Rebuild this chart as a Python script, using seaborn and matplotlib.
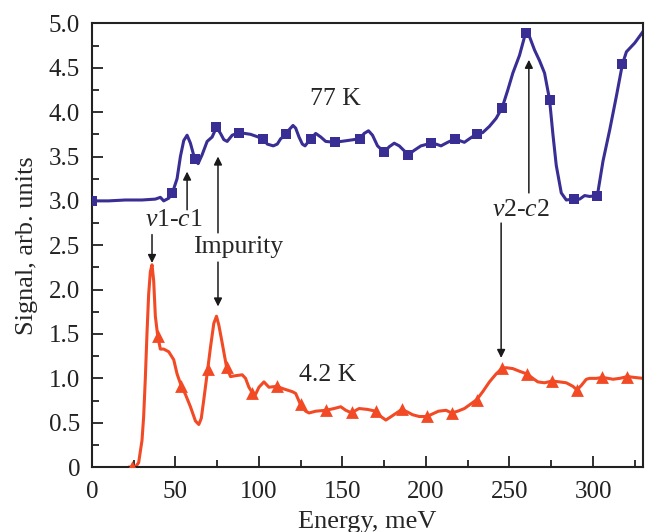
import numpy as np
import matplotlib
matplotlib.use('Agg')
import matplotlib.pyplot as plt
import seaborn as sns
import pandas as pd

# 77 K curve
e77 = [0, 10, 20, 30, 38, 41, 43, 46, 48.2, 51, 53, 55, 57, 59, 61.6, 63.6, 66, 69, 72, 74.6,
       77, 79, 81, 84, 88.2, 95, 102.6, 105, 108.6, 111, 113, 116.4, 118, 120.4, 122, 124, 126,
       127.6, 131, 134, 137, 140, 145.4, 153, 160.4, 163, 165.6, 168, 171, 175, 178, 181, 184,
       189.4, 193, 197, 203, 206, 209, 213, 217.6, 220, 223, 226, 230, 234, 238, 242, 245.6,
       249, 252, 256, 259.6, 262, 265, 268, 271, 274, 276, 278, 281, 284, 288.4, 292, 295, 298,
       302.6, 306, 310, 314, 317.6, 320, 325, 330]
s77 = [3.00, 3.00, 3.01, 3.01, 3.02, 3.04, 3.00, 3.03, 3.09, 3.25, 3.50, 3.68, 3.74, 3.65, 3.47,
       3.42, 3.52, 3.67, 3.72, 3.83, 3.76, 3.69, 3.67, 3.74, 3.77, 3.75, 3.70, 3.64, 3.62, 3.64,
       3.70, 3.75, 3.80, 3.85, 3.82, 3.72, 3.64, 3.62, 3.70, 3.76, 3.72, 3.67, 3.66, 3.68, 3.70,
       3.76, 3.79, 3.74, 3.62, 3.55, 3.61, 3.65, 3.62, 3.52, 3.57, 3.62, 3.65, 3.64, 3.62, 3.66,
       3.70, 3.68, 3.66, 3.70, 3.75, 3.77, 3.84, 3.93, 4.05, 4.25, 4.44, 4.64, 4.89, 4.85, 4.70,
       4.58, 4.44, 4.14, 3.75, 3.40, 3.09, 3.01, 3.02, 3.02, 3.06, 3.05, 3.06, 3.45, 3.80, 4.18,
       4.54, 4.68, 4.78, 4.91]
e77_mark = [0, 48.2, 61.6, 74.6, 88.2, 102.6, 116.4, 131, 145.4, 160.4, 175, 189.4, 203, 217.6,
            230.5, 245.6, 259.6, 274, 288.4, 302.6, 317.6]
s77_mark = [3.0, 3.09, 3.47, 3.83, 3.77, 3.70, 3.75, 3.70, 3.66, 3.70, 3.55, 3.52, 3.65, 3.70,
            3.75, 4.05, 4.89, 4.14, 3.02, 3.06, 4.54]

# 4.2 K curve
e42 = [22, 24, 26, 28, 30, 31, 32, 33, 34, 35, 36, 37, 38, 39.4, 41, 43, 46, 49, 51, 53.6, 56,
       59, 62, 64, 65.5, 67, 69.4, 71, 73, 74.6, 76, 78, 80.6, 83, 86, 90, 92, 94, 96, 98, 100,
       103, 106, 110.6, 115, 120, 122, 125, 128, 130, 134, 140, 145, 149, 152, 155.6, 158, 160,
       165, 170, 173, 176, 180, 185.6, 189, 192, 196, 200.6, 204, 207.5, 212, 215.4, 219, 223,
       226, 230.4, 234, 238, 242, 245.4, 248, 252, 256, 260.4, 264, 267, 271, 275.6, 280, 284,
       288, 290.4, 293, 296, 298, 302, 305.6, 309, 312, 316, 320.6, 325, 330]
s42 = [0.0, 0.0, 0.0, 0.05, 0.30, 0.57, 1.00, 1.51, 1.95, 2.20, 2.28, 2.10, 1.70, 1.48, 1.33,
       1.33, 1.30, 1.21, 1.05, 0.91, 0.82, 0.68, 0.52, 0.48, 0.55, 0.76, 1.11, 1.35, 1.62, 1.70,
       1.60, 1.40, 1.13, 1.02, 1.03, 1.04, 1.00, 0.90, 0.84, 0.82, 0.90, 0.96, 0.90, 0.91, 0.88,
       0.85, 0.83, 0.70, 0.63, 0.61, 0.63, 0.64, 0.66, 0.68, 0.64, 0.61, 0.64, 0.66, 0.65, 0.63,
       0.57, 0.53, 0.58, 0.65, 0.62, 0.59, 0.57, 0.57, 0.60, 0.63, 0.64, 0.61, 0.63, 0.66, 0.70,
       0.76, 0.85, 0.96, 1.05, 1.11, 1.12, 1.11, 1.08, 1.05, 1.00, 0.96, 0.95, 0.97, 0.96, 0.95,
       0.91, 0.87, 0.92, 0.99, 1.00, 1.00, 1.01, 1.00, 0.99, 1.00, 1.02, 1.01, 1.00]
e42_mark = [24, 39.4, 53.6, 69.4, 80.6, 96, 110.6, 125, 140, 155.6, 170, 185.6, 200.6, 215.4,
            230.4, 245.4, 260.4, 275.6, 290.4, 305.6, 320.6]
s42_mark = [0.0, 1.48, 0.91, 1.11, 1.13, 0.84, 0.91, 0.71, 0.64, 0.62, 0.63, 0.66, 0.58, 0.61,
            0.76, 1.12, 1.05, 0.97, 0.87, 1.01, 1.02]

blue = '#382e94'
red = '#f24a25'

sns.set_style('ticks')
plt.rcParams['font.family'] = ['Liberation Serif', 'DejaVu Serif']
plt.rcParams['mathtext.fontset'] = 'custom'
plt.rcParams['mathtext.rm'] = 'Liberation Serif'
plt.rcParams['mathtext.it'] = 'Liberation Serif:italic'

fig = plt.figure(figsize=(6.47, 5.32), dpi=100)
ax = fig.add_axes([0.142, 0.122, 0.852, 0.834])

df77 = pd.DataFrame({'Energy': e77, 'Signal': s77})
df42 = pd.DataFrame({'Energy': e42, 'Signal': s42})
sns.lineplot(data=df77, x='Energy', y='Signal', color=blue, lw=2.2, ax=ax, sort=False)
sns.lineplot(data=df42, x='Energy', y='Signal', color=red, lw=2.2, ax=ax, sort=False)
sns.scatterplot(x=e77_mark, y=s77_mark, marker='s', s=60, color=blue, edgecolor=blue,
                linewidth=0, ax=ax, zorder=3)
sns.scatterplot(x=e42_mark, y=s42_mark, marker='^', s=85, color=red, edgecolor=red,
                linewidth=0, ax=ax, zorder=3)

ax.set_xlim(0, 330)
ax.set_ylim(0, 5)
ax.set_xticks(np.arange(0, 301, 50))
ax.set_xticks(np.arange(0, 331, 25), minor=True)
ax.set_yticks(np.arange(0, 5.01, 0.5))
ax.set_yticks(np.arange(0, 5.01, 0.25), minor=True)
ax.set_yticklabels(['0'] + ['%.1f' % v for v in np.arange(0.5, 5.01, 0.5)])
ax.tick_params(which='both', direction='in', labelsize=18, width=1.3, colors='#222222')
ax.tick_params(which='major', length=8)
ax.tick_params(which='minor', length=5)
ax.tick_params(axis='x', which='major', pad=10)
ax.tick_params(axis='y', which='major', pad=8.5)
for sp in ax.spines.values():
    sp.set_linewidth(1.5)
    sp.set_color('#222222')
ax.set_xlabel('Energy, meV', fontsize=19, labelpad=6)
ax.set_ylabel('Signal, arb. units', fontsize=19, labelpad=7.5)

ax.text(145.5, 4.15, '77 K', fontsize=18.5, ha='center', va='center')
ax.text(141, 1.04, '4.2 K', fontsize=18.5, ha='center', va='center')
ax.text(49, 2.78, r'$v$1-$c$1', fontsize=18.5, ha='center', va='center')
ax.text(87.5, 2.48, 'Impurity', fontsize=18.5, ha='center', va='center')
ax.text(257, 2.90, r'$v$2-$c$2', fontsize=18.5, ha='center', va='center')

arr = dict(arrowstyle='-|>', color='#1a1a1a', lw=1.1, mutation_scale=12, shrinkA=0, shrinkB=0)
ax.annotate('', xy=(57, 3.33), xytext=(57, 2.9), arrowprops=arr)
ax.annotate('', xy=(36, 2.3), xytext=(36, 2.62), arrowprops=arr)
ax.annotate('', xy=(75.5, 3.50), xytext=(75.5, 2.64), arrowprops=arr)
ax.annotate('', xy=(75.5, 1.81), xytext=(75.5, 2.31), arrowprops=arr)
ax.annotate('', xy=(261.6, 4.59), xytext=(261.6, 3.09), arrowprops=arr)
ax.annotate('', xy=(245, 1.23), xytext=(245, 2.75), arrowprops=arr)

fig.savefig('out.png', dpi=100)
